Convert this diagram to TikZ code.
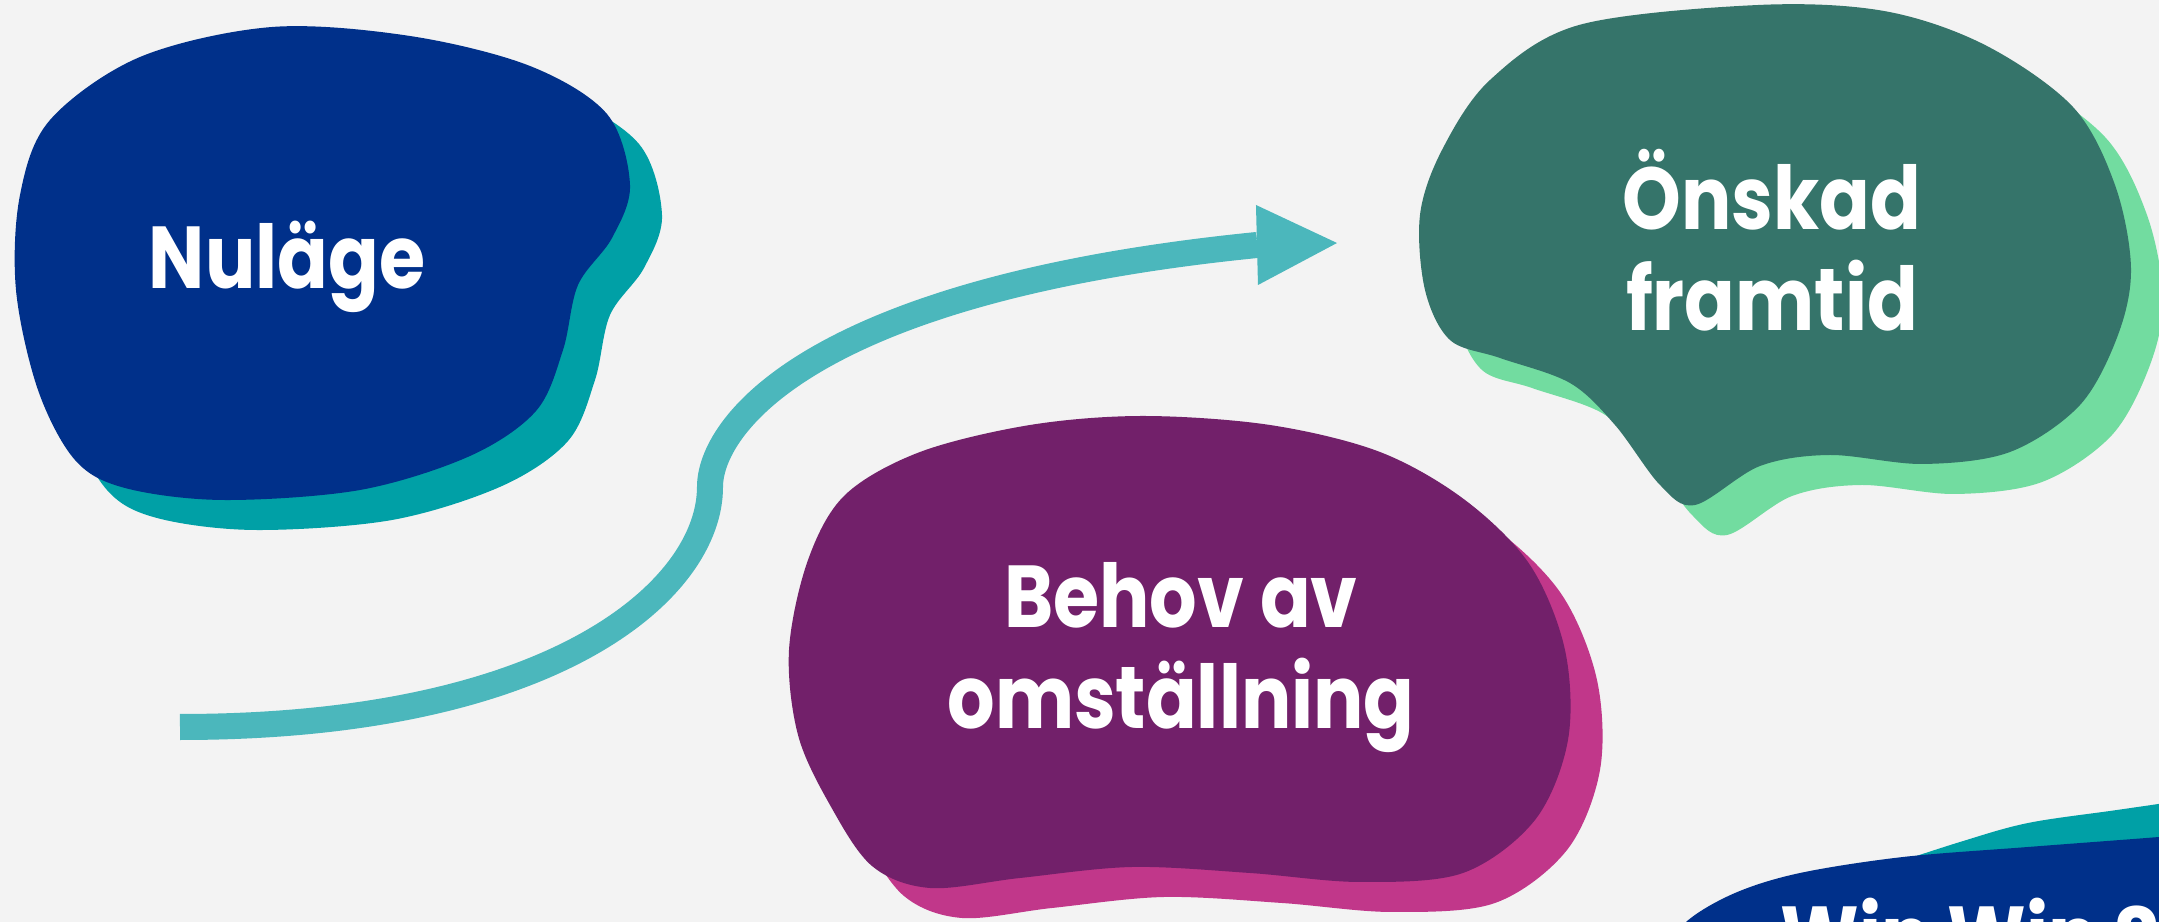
\documentclass[tikz,border=0pt]{standalone}
\usepackage{fontspec}
\usetikzlibrary{arrows.meta}
\newfontfamily\blobfont{Poppins}[FakeStretch=0.85]
\definecolor{paper}{HTML}{F3F3F3}
\definecolor{navy}{HTML}{00308A}
\definecolor{lagoon}{HTML}{00A0A6}
\definecolor{flowteal}{HTML}{4BB7BC}
\definecolor{forest}{HTML}{35746A}
\definecolor{mint}{HTML}{72DCA0}
\definecolor{plum}{HTML}{72206A}
\definecolor{rose}{HTML}{C1378A}

\begin{document}
\begin{tikzpicture}[x=0.01cm, y=-0.01cm,
blobline/.style={smooth cycle, tension=0.55},
shade/.style={shift={(32,30)}},
title/.style={text=white, font=\blobfont\bfseries\fontsize{25}{29}\selectfont, align=center, inner sep=0pt},
flow/.style={draw=flowteal, line width=2.6mm, -{Triangle[length=8mm, width=8mm, line width=0pt]}}]
\useasboundingbox (0,0) rectangle (2159,922);
\clip (0,0) rectangle (2159,922);
\fill[paper] (0,0) rectangle (2159,922);

\def\nulage{(50,120) (140,57) (272,27) (410,36) (530,66) (607,114) (630,185)
  (612,238) (578,285) (563,350) (536,411) (470,456) (360,490) (223,500)
  (125,488) (75,460) (38,390) (16,290) (20,195)}
\def\onskad{(1579,25) (1758,5) (1884,11) (1985,45) (2073,107) (2115,185) (2131,268)
  (2118,335) (2080,405) (2010,452) (1923,464) (1830,455) (1760,466) (1695,505)
  (1660,485) (1615,425) (1570,383) (1500,358) (1450,340) (1425,290)
  (1420,215) (1442,150) (1490,80)}
\def\behov{(1143,416) (1270,425) (1380,452) (1465,500) (1530,565) (1565,650)
  (1568,740) (1535,820) (1463,873) (1360,882) (1250,873) (1132,867) (1020,878) (930,888)
  (872,866) (830,805) (798,735) (789,650) (808,560) (845,495) (920,452) (1030,425)}

\fill[lagoon, shade] plot[blobline] coordinates {\nulage};
\fill[navy] plot[blobline] coordinates {\nulage};
\fill[mint, shade] plot[blobline] coordinates {\onskad};
\fill[forest] plot[blobline] coordinates {\onskad};
\fill[rose, shade] plot[blobline] coordinates {\behov};
\fill[plum] plot[blobline] coordinates {\behov};

\fill[lagoon] plot[smooth, tension=0.55] coordinates {(1880,868) (1960,842) (2028,823) (2117,810) (2200,798)}
  -- (2200,960) -- (1880,960) -- cycle;
\fill[navy] plot[smooth, tension=0.55] coordinates {(1660,960) (1686,922) (1735,893) (1800,873) (1903,857) (2028,847) (2159,837) (2200,833)}
  -- (2200,960) -- cycle;

\node[title, anchor=base] (nulage) at (287,289) {Nuläge};
\node[title, anchor=base] (onskad) at (1772,331) {Önskad\\framtid};
\node[title, anchor=base] (behov) at (1181,729) {Behov av\\omställning};
\node[title, anchor=base west] (winwin) at (1780,969) {Win Win S};

\coordinate (flowstart) at (180,727);
\coordinate (flowtip) at (1337,243);
\draw[flow] (flowstart) .. controls (560,727) and (710,587) .. (710,487)
  .. controls (710,427) and (807,290) .. (1257,245) -- (flowtip);
\end{tikzpicture}
\end{document}
